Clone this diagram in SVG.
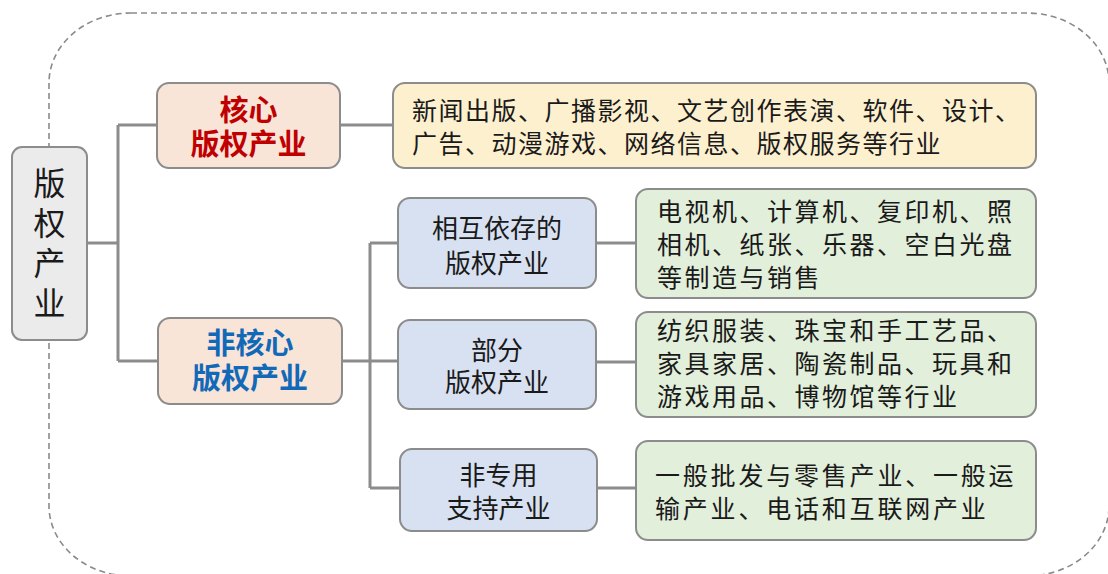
<svg xmlns="http://www.w3.org/2000/svg" width="1108" height="574" viewBox="0 0 1108 574">
<style>
  .frame{fill:none;stroke:#8a8a8a;stroke-width:1.6;stroke-dasharray:6 4}
  .box{stroke:#8c8c8c;stroke-width:2}
  .root{fill:#ebebeb}
  .peach{fill:#f9e4d8}
  .blue{fill:#d8e1f1}
  .green{fill:#e2efda}
  .yellow{fill:#fdf0cf}
  .conn{fill:none;stroke:#8c8c8c;stroke-width:3}
  text{font-family:"Noto Sans CJK SC","Noto Sans",sans-serif;fill:#1a1a1a}
  .rt{font-size:32px;text-anchor:middle}
  .cat{font-size:29px;font-weight:bold;text-anchor:middle}
  .red{fill:#c00000}
  .bl{fill:#1169b8}
  .sub{font-size:26px;text-anchor:middle}
  .desc{font-size:25px;letter-spacing:2.5px}
</style>
<rect class="frame" x="49" y="13" width="1060" height="563" rx="82" ry="70"/>
<g id="connectors">
  <path class="conn" d="M87 243 H118 M118 125 V361 M118 125 H157 M118 361 H158"/>
  <path class="conn" d="M340 125 H393"/>
  <path class="conn" d="M342 361 H398 M370 243 V488 M370 243 H398 M370 488 H400"/>
  <path class="conn" d="M596 243 H636 M596 362 H636 M597 488 H636"/>
</g>
<g id="root">
  <rect class="box root" x="12" y="147" width="75" height="193" rx="10"/>
  <text class="rt"><tspan x="49.5" y="195">版</tspan><tspan x="49.5" dy="40">权</tspan><tspan x="49.5" dy="40">产</tspan><tspan x="49.5" dy="40">业</tspan></text>
</g>
<g id="core">
  <rect class="box peach" x="157" y="83" width="183" height="85" rx="12"/>
  <text class="cat red"><tspan x="248.5" y="121">核心</tspan><tspan x="248.5" dy="34">版权产业</tspan></text>
</g>
<g id="core-desc">
  <rect class="box yellow" x="393" y="83" width="643" height="85" rx="12"/>
  <text class="desc" style="letter-spacing:1.5px"><tspan x="412" y="119.5">新闻出版、广播影视、文艺创作表演、软件、设计、</tspan><tspan x="412" dy="33">广告、动漫游戏、网络信息、版权服务等行业</tspan></text>
</g>
<g id="noncore">
  <rect class="box peach" x="158" y="318" width="184" height="86" rx="12"/>
  <text class="cat bl"><tspan x="250" y="354">非核心</tspan><tspan x="250" dy="35">版权产业</tspan></text>
</g>
<g id="interdependent">
  <rect class="box blue" x="398" y="198" width="198" height="90" rx="12"/>
  <text class="sub"><tspan x="497" y="238">相互依存的</tspan><tspan x="497" dy="35">版权产业</tspan></text>
</g>
<g id="interdependent-desc">
  <rect class="box green" x="636" y="189" width="400" height="109" rx="12"/>
  <text class="desc"><tspan x="657" y="220.5">电视机、计算机、复印机、照</tspan><tspan x="657" dy="33">相机、纸张、乐器、空白光盘</tspan><tspan x="657" dy="33">等制造与销售</tspan></text>
</g>
<g id="partial">
  <rect class="box blue" x="398" y="320" width="198" height="89" rx="12"/>
  <text class="sub"><tspan x="497" y="360">部分</tspan><tspan x="497" dy="32">版权产业</tspan></text>
</g>
<g id="partial-desc">
  <rect class="box green" x="636" y="312" width="400" height="105" rx="12"/>
  <text class="desc"><tspan x="657" y="339.5">纺织服装、珠宝和手工艺品、</tspan><tspan x="657" dy="33">家具家居、陶瓷制品、玩具和</tspan><tspan x="657" dy="33.5">游戏用品、博物馆等行业</tspan></text>
</g>
<g id="nondedicated">
  <rect class="box blue" x="400" y="449" width="197" height="82" rx="12"/>
  <text class="sub"><tspan x="498.5" y="485">非专用</tspan><tspan x="498.5" dy="33">支持产业</tspan></text>
</g>
<g id="nondedicated-desc">
  <rect class="box green" x="636" y="441" width="400" height="99" rx="12"/>
  <text class="desc" style="letter-spacing:2.8px"><tspan x="655" y="484.5">一般批发与零售产业、一般运</tspan><tspan x="655" dy="33">输产业、电话和互联网产业</tspan></text>
</g>
</svg>
